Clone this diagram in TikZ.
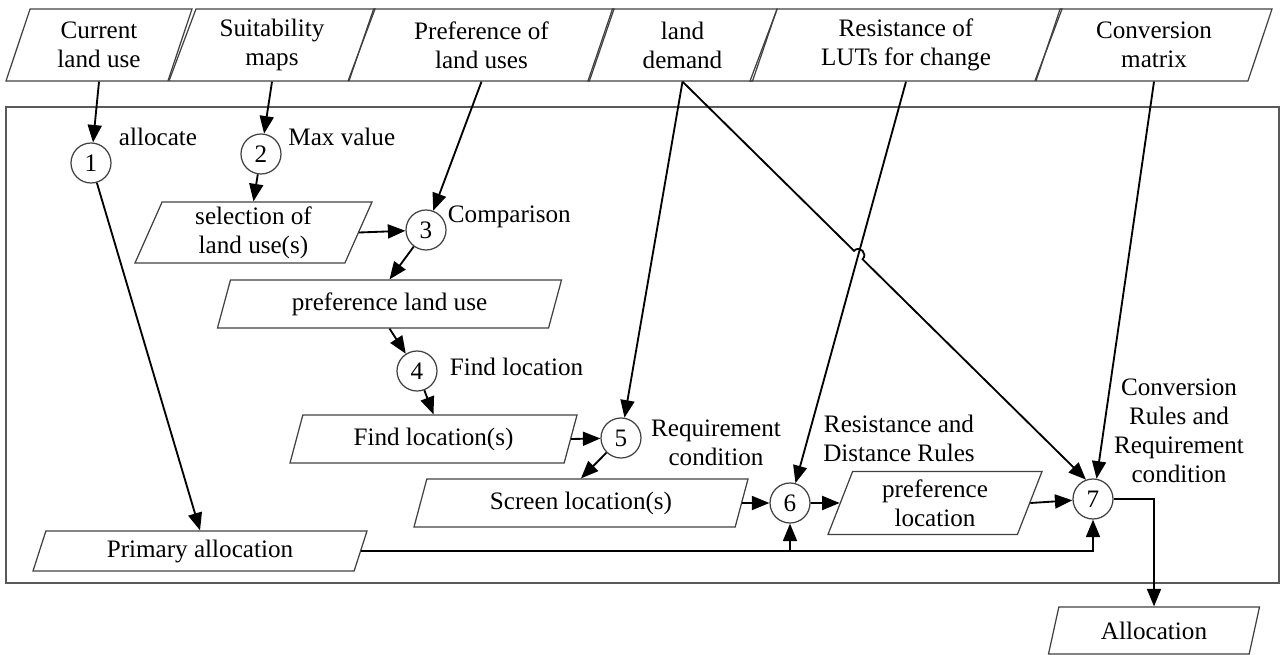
\documentclass[tikz,border=0pt]{standalone}
\usepackage{fontspec}
\setmainfont{Liberation Serif}
\usepackage{tikz}
\usetikzlibrary{calc, arrows.meta, shapes.geometric, intersections, positioning}
\tikzstyle{io}=[draw=black!75, line width=0.7pt, trapezium, trapezium left angle=64, trapezium right angle=116, trapezium stretches body, minimum height=0.96cm, inner sep=1pt, align=center]
\tikzstyle{op}=[draw=black!75, line width=0.7pt, circle, minimum size=0.8cm, inner sep=0pt]
\tikzstyle{note}=[inner sep=0pt, align=center]
\tikzstyle{panel}=[draw=black!65, line width=0.8pt]

\begin{document}
\begin{tikzpicture}[node distance=2cm,>={Triangle[length=3.5mm,width=2.8mm]},line width=1.05pt,font=\fontsize{14.3}{16.5}\selectfont]
      \useasboundingbox (0,0) rectangle (25.68,-13.10);
      \draw[panel] (0.12,-2.14) rectangle (25.58,-11.66);

      \node [io, minimum width=3.72cm, minimum height=1.44cm] (cur) at (1.98,-0.90) {Current\\land use};
      \node [io, minimum width=4.12cm, minimum height=1.44cm] (suit) [right of=cur, node distance=3.46cm] {Suitability\\maps};
      \node [io, minimum width=5.30cm, minimum height=1.44cm] (pref) [right of=suit, node distance=4.19cm] {Preference of\\land uses};
      \node [io, minimum width=3.78cm, minimum height=1.44cm] (dem) [right of=pref, node distance=4.02cm] {land\\demand};
      \node [io, minimum width=6.24cm, minimum height=1.44cm] (res) [right of=dem, node distance=4.47cm] {Resistance of\\LUTs for change};
      \node [io, minimum width=4.72cm, minimum height=1.44cm] (conv) [right of=res, node distance=4.96cm] {Conversion\\matrix};

      \node [op] (s1) [below of=cur, node distance=2.36cm, xshift=-0.16cm] {1};
      \node [op] (s2) [below of=suit, node distance=2.18cm, xshift=-0.22cm] {2};
      \node [io, minimum width=4.74cm, minimum height=1.22cm] (sel) [below of=s2, node distance=1.57cm, xshift=-0.15cm] {selection of\\land use(s)};
      \node [op] (s3) [right of=sel, node distance=3.45cm, yshift=0.05cm] {3};
      \node [io, minimum width=6.88cm] (plu) [below of=s3, node distance=1.48cm, xshift=-0.73cm] {preference land use};
      \node [op] (s4) [below of=plu, node distance=1.34cm, xshift=0.55cm] {4};
      \node [io, minimum width=5.74cm] (fl) [below of=s4, node distance=1.36cm, xshift=0.33cm] {Find location(s)};
      \node [op] (s5) [right of=fl, node distance=3.75cm, yshift=0.02cm] {5};
      \node [io, minimum width=6.68cm] (scr) [below of=s5, node distance=1.30cm, xshift=-0.80cm] {Screen location(s)};
      \node [op] (s6) [right of=scr, node distance=4.18cm] {6};
      \node [io, minimum width=4.28cm, minimum height=1.26cm] (ploc) [right of=s6, node distance=2.90cm] {preference\\location};
      \node [op] (s7) [right of=ploc, node distance=3.16cm, yshift=0.08cm] {7};
      \node [io, minimum width=6.68cm, minimum height=0.80cm] (prim) [below of=s1, node distance=7.76cm, xshift=2.18cm] {Primary allocation};
      \node [io, minimum width=4.22cm, minimum height=0.94cm] (alloc) [below of=conv, node distance=11.71cm] {Allocation};

      \node [note] (t1) [right of=s1, node distance=0.54cm, yshift=0.52cm, anchor=west] {allocate};
      \node [note] (t2) [right of=s2, node distance=0.53cm, yshift=0.34cm, anchor=west] {Max value};
      \node [note] (t3) [right of=s3, node distance=0.42cm, yshift=0.26cm, anchor=west] {Comparison};
      \node [note] (t4) [right of=s4, node distance=0.64cm, yshift=0.08cm, anchor=west] {Find location};
      \node [note] (t5) [right of=s5, node distance=1.90cm, yshift=-0.10cm] {Requirement\\condition};
      \node [note] (t6) [right of=s6, node distance=2.18cm, yshift=1.30cm] {Resistance and\\Distance Rules};
      \node [note] (t7) [right of=s7, node distance=1.72cm, yshift=1.37cm] {Conversion\\Rules and\\Requirement\\condition};

      \path[->] (cur.south) edge node {} (s1);
      \path[->] (s1) edge node {} (prim.north);
      \path[->] (suit.south) edge node {} (s2);
      \path[->] (s2) edge node {} (sel.north);
      \path[->] (pref.south) edge node {} (s3);
      \path[->] (sel.east) edge node {} (s3);
      \path[->] (s3) edge node {} (plu.north);
      \path[->] (plu.south) edge node {} (s4);
      \path[->] (s4) edge node {} (fl.north);
      \path[->] (fl.east) edge node {} (s5);
      \path[->] (dem.south) edge node {} (s5);
      \path[->] (s5) edge node {} (scr.north);
      \path[->] (scr.east) edge node {} (s6);
      \path[->] (res.south) edge node {} (s6);
      \path[->] (s6) edge node {} (ploc.west);
      \path[->] (ploc.east) edge node {} (s7);
      \path[->] (conv.south) edge node {} (s7.80);

      \draw[->] (prim.east) -| (s7.south);
      \draw[->] (s6.south |- prim.east) -- (s6.south);
      \draw[->] (s7.east) -| (alloc.north);

      \path[name path=resline] (res.south) -- (s6.center);
      \path[name path=demline] (dem.south) -- (s7.110);
      \path[name intersections={of=resline and demline, by=hop}];
      \draw[->] (dem.south) -- ($(hop)!0.12cm!(dem.south)$) to[bend left=90, looseness=1.7] ($(hop)!0.12cm!(s7.110)$) -- (s7.110);
  \end{tikzpicture}
\end{document}
